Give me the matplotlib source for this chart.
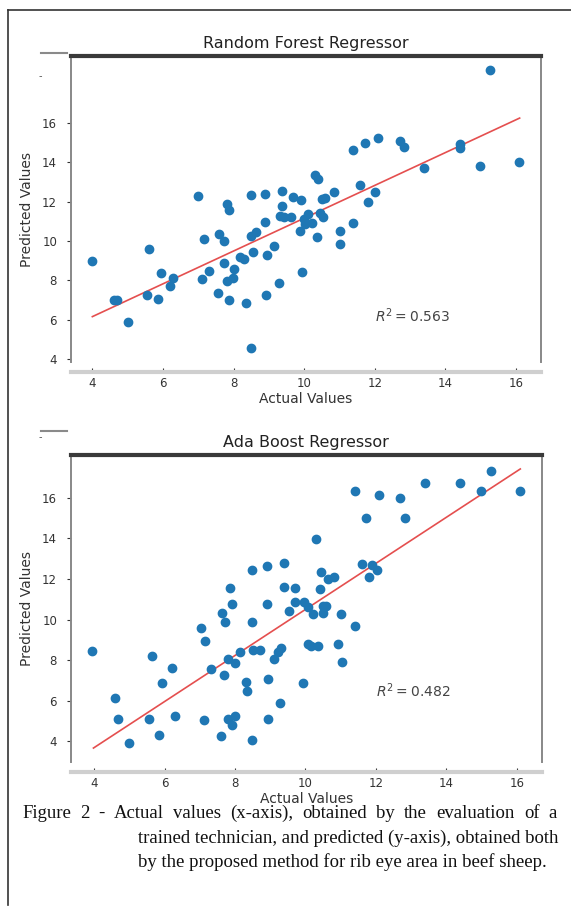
import matplotlib
matplotlib.use("Agg")
import matplotlib.pyplot as plt
from matplotlib.lines import Line2D

# Random Forest panel (actual, predicted)
rf_actual = [4.0, 4.6, 4.7, 5.0, 5.6, 5.55, 5.85, 5.93, 6.28, 6.2,
             7.0, 7.15, 7.1, 7.3, 7.6, 7.72, 7.57, 7.82, 7.87, 7.73,
             7.8, 7.97, 7.88, 8.0, 8.18, 8.3, 8.34, 8.49, 8.5, 8.54,
             8.48, 8.64, 8.9, 8.9, 8.95, 8.92, 9.13, 9.29, 9.37, 9.37,
             9.3, 9.42, 9.62, 9.68, 9.92, 9.93, 9.88, 9.98, 10.1, 10.03,
             10.23, 10.35, 10.44, 10.54, 10.5, 10.6, 10.84, 11.0, 11.0, 11.38,
             11.58, 11.8, 12.0, 10.3, 10.39, 11.38, 11.71, 12.09, 12.7, 12.82,
             13.38, 14.4, 14.42, 14.99, 15.27, 16.08]
rf_pred = [9.0, 7.0, 7.0, 5.88, 9.6, 7.23, 7.06, 8.38, 8.12, 7.7,
           12.3, 10.1, 8.05, 8.48, 10.35, 10.0, 7.34, 11.88, 11.55, 8.9,
           7.96, 8.12, 7.02, 8.56, 9.16, 9.06, 6.84, 4.55, 12.36, 9.45,
           10.25, 10.44, 12.38, 10.94, 9.3, 7.27, 9.75, 7.85, 12.53, 11.8,
           11.27, 11.24, 11.2, 12.22, 12.08, 8.42, 10.52, 11.14, 11.36, 10.85,
           10.93, 10.2, 11.42, 11.2, 12.12, 12.2, 12.49, 10.5, 9.83, 10.92,
           12.85, 11.98, 12.5, 13.34, 13.14, 14.63, 14.97, 15.26, 15.1, 14.76,
           13.73, 14.75, 14.95, 13.79, 18.7, 14.04]
rf_fit_x = [4.0, 16.1]
rf_fit_y = [6.15, 16.25]
rf_r2 = 0.563

# Ada Boost panel (actual, predicted)
ada_actual = [3.95, 4.59, 4.69, 4.99, 5.56, 5.63, 5.84, 5.92, 6.22, 6.29,
              7.03, 7.11, 7.16, 7.31, 7.59, 7.63, 7.71, 7.69, 7.8, 7.85,
              7.92, 7.8, 7.9, 7.99, 8.0, 8.13, 8.3, 8.33, 8.49, 8.51,
              8.48, 8.7, 8.48, 8.91, 8.91, 8.95, 8.93, 9.12, 9.29, 9.22,
              9.31, 9.39, 9.39, 9.69, 9.54, 9.69, 9.97, 9.92, 10.06, 10.06,
              10.2, 10.3, 10.15, 10.36, 10.44, 10.42, 10.49, 10.58, 10.49, 10.63,
              10.8, 11.0, 10.92, 11.03, 11.41, 11.41, 11.6, 11.71, 11.81, 12.03,
              11.88, 12.09, 12.68, 12.82, 13.38, 14.4, 14.99, 15.27, 16.08]
ada_pred = [8.46, 6.15, 5.11, 3.92, 5.11, 8.21, 4.33, 6.89, 7.63, 5.24,
            9.6, 5.04, 8.95, 7.58, 4.25, 10.32, 9.86, 7.25, 8.04, 11.55,
            10.77, 5.11, 4.83, 7.88, 5.24, 8.38, 6.92, 6.48, 4.05, 8.5,
            12.42, 8.5, 9.86, 12.66, 10.77, 7.05, 5.11, 8.04, 5.9, 8.38,
            8.62, 12.78, 11.59, 11.54, 10.44, 10.85, 10.85, 6.89, 8.79, 10.6,
            10.27, 13.99, 8.68, 8.68, 12.34, 11.51, 10.68, 10.68, 10.32, 12.0,
            12.09, 10.27, 8.79, 7.92, 9.69, 16.33, 12.75, 15.01, 12.09, 12.42,
            12.7, 16.16, 16.0, 15.01, 16.71, 16.71, 16.33, 17.32, 16.33]
ada_fit_x = [3.98, 16.1]
ada_fit_y = [3.67, 17.42]
ada_r2 = 0.482

W, H = 571, 913
fig = plt.figure(figsize=(W / 100, H / 100), dpi=100)


def box(l, t, r, b):
    return [l / W, 1 - b / H, (r - l) / W, (b - t) / H]


def panel(rect, x, y, fx, fy, title, r2, r2_pos):
    ax = fig.add_axes(box(*rect))
    ax.scatter(x, y, s=36, color="#1f77b4", zorder=3)
    ax.plot(fx, fy, color="#e03030", lw=1.2, alpha=0.85, zorder=2)
    ax.set_title(title, fontsize=11.5, color="#222", pad=6)
    ax.set_xlabel("Actual Values", fontsize=10, color="#333", labelpad=1)
    ax.set_ylabel("Predicted Values", fontsize=10, color="#333", labelpad=6)
    ax.text(r2_pos[0], r2_pos[1], r"$R^2 = %.3f$" % r2, fontsize=10,
            color="#444", va="center", family="serif")
    ax.set_xticks([4, 6, 8, 10, 12, 14, 16])
    ax.set_yticks([4, 6, 8, 10, 12, 14, 16])
    ax.tick_params(labelsize=8.5, colors="#333", length=3)
    ax.tick_params(axis="y", pad=7)
    ax.tick_params(axis="x", direction="in", pad=4)
    ax.spines["top"].set_linewidth(3)
    ax.spines["top"].set_color("#3a3a3a")
    ax.spines["left"].set_color("#888")
    ax.spines["right"].set_color("#888")
    ax.spines["left"].set_linewidth(1.4)
    ax.spines["right"].set_linewidth(1.4)
    ax.spines["bottom"].set_position(("outward", 7))
    ax.spines["bottom"].set_color("#cfcfcf")
    ax.spines["bottom"].set_linewidth(3)
    return ax


panel((71, 56, 541, 362), rf_actual, rf_pred, rf_fit_x, rf_fit_y,
      "Random Forest Regressor", rf_r2, (12.0, 6.2))
panel((71, 455, 541.7, 762), ada_actual, ada_pred, ada_fit_x, ada_fit_y,
      "Ada Boost Regressor", ada_r2, (12.0, 6.5))

# stray marks at the top-left of each panel
for yy, ym in ((53, 76), (431, 437)):
    fig.add_artist(Line2D([41 / W, 67 / W], [1 - yy / H, 1 - yy / H],
                          color="#8a8a8a", lw=1.5))
    fig.text(40 / W, 1 - ym / H, "-", fontsize=7, color="#555",
             ha="center", va="center")

# frame of the figure box
fig.add_artist(Line2D([8 / W, 1], [1 - 10 / H, 1 - 10 / H], color="#333", lw=1.2))
fig.add_artist(Line2D([8 / W, 8 / W], [1 - 10 / H, 1 - 905 / H], color="#333", lw=1.2))

# caption with hanging indent, first line justified
cap = dict(fontsize=13.5, family="Liberation Serif", color="#111", va="center")
renderer = fig.canvas.get_renderer()
words = "Figure 2 - Actual values (x-axis), obtained by the evaluation of a".split()
items = [fig.text(0, 1 - 813 / H, w, **cap) for w in words]
widths = [t.get_window_extent(renderer).width for t in items]
x0, x1 = 22, 557
gap = (x1 - x0 - sum(widths)) / (len(words) - 1)
xx = x0
for t, w in zip(items, widths):
    t.set_x(xx / W)
    xx += w + gap

fig.text(138 / W, 1 - 838 / H,
         "trained technician, and predicted (y-axis), obtained both", **cap)
fig.text(138 / W, 1 - 862 / H,
         "by the proposed method for rib eye area in beef sheep.", **cap)

fig.savefig("out.png", dpi=100)
